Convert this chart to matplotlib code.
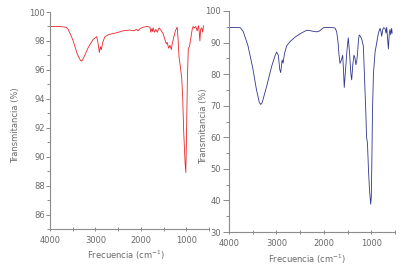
import matplotlib
matplotlib.use("Agg")
import matplotlib.pyplot as plt
from matplotlib.ticker import MultipleLocator

# Left spectrum (red)
red_wn = [4000, 3800, 3650, 3600, 3500, 3400, 3330, 3300, 3250, 3150, 3050, 2970, 2940, 2914,
          2890, 2870, 2840, 2790, 2700, 2550, 2390, 2250, 2150, 2100, 2060, 2020, 1950,
          1850, 1800, 1780, 1760, 1745, 1730, 1700, 1670, 1640, 1600, 1560, 1510, 1470, 1440, 1420,
          1390, 1360, 1330, 1310, 1280, 1240, 1200, 1180, 1160, 1130, 1100, 1080, 1060,
          1040, 1025, 1010, 995, 975, 955, 930, 900, 870, 850, 820, 790, 760, 730, 715,
          700, 685, 660, 640, 620]
red_t = [99.0, 99.0, 98.95, 98.8, 98.1, 97.1, 96.65, 96.6, 96.9, 97.6, 98.1, 98.3, 97.8, 97.2,
         97.6, 97.4, 97.9, 98.3, 98.45, 98.55, 98.7, 98.75, 98.7, 98.8, 98.7, 98.85, 98.95,
         99.0, 98.95, 98.6, 98.85, 98.65, 98.9, 98.6, 98.8, 98.6, 98.9, 98.75, 98.5, 98.1, 97.8, 97.9,
         97.5, 97.7, 97.4, 97.8, 98.2, 98.7, 98.95, 98.1, 96.9, 96.2, 95.4, 94.2, 92.0,
         90.5, 89.5, 88.9, 91.5, 95.5, 97.5, 97.6, 98.2, 98.8, 99.0, 98.9, 99.0, 98.7,
         99.05, 98.6, 98.0, 98.8, 98.9, 98.6, 99.05]

# Right spectrum (blue)
blue_wn = [4000, 3850, 3760, 3700, 3600, 3500, 3420, 3360, 3330, 3300, 3200, 3100, 3030, 2995,
           2960, 2930, 2910, 2880, 2860, 2830, 2784, 2700, 2600, 2500, 2400, 2360, 2300,
           2200, 2150, 2100, 2050, 2010, 1900, 1800, 1765, 1730, 1700, 1680, 1660, 1630,
           1603, 1585, 1570, 1540, 1510, 1485, 1460, 1430, 1413, 1390, 1365, 1343, 1325,
           1308, 1290, 1270, 1253, 1230, 1200, 1168, 1150, 1133, 1115, 1100, 1080, 1060,
           1040, 1025, 1012, 1000, 990, 975, 955, 920, 885, 850, 815, 795, 780, 760, 740,
           710, 690, 675, 660, 640, 620, 605, 590, 570, 560]
blue_t = [94.8, 94.8, 94.7, 93.5, 89.0, 82.0, 75.0, 71.0, 70.4, 71.0, 76.5, 82.5, 85.8, 87.0,
          86.0, 81.5, 80.5, 84.5, 83.5, 86.5, 89.0, 90.5, 91.8, 92.8, 93.6, 93.9, 93.8,
          93.5, 93.4, 93.6, 94.2, 94.7, 94.8, 94.7, 94.6, 93.5, 90.0, 86.0, 83.4, 84.5,
          86.0, 81.0, 75.8, 82.0, 88.0, 91.5, 87.0, 80.0, 78.2, 83.0, 86.0, 85.0, 83.0,
          84.0, 86.5, 91.0, 92.4, 92.0, 91.0, 89.0, 82.0, 75.0, 68.0, 60.2, 58.0, 50.0,
          44.0, 41.0, 38.8, 41.0, 50.0, 68.0, 80.0, 87.0, 90.0, 93.0, 94.5, 93.5, 92.0,
          94.0, 94.7, 94.5, 93.0, 94.8, 92.0, 88.0, 93.0, 94.2, 92.5, 94.5, 93.0]

red_color = "#e8262b"
blue_color = "#30358a"
axis_gray = "#8c8c8c"
text_gray = "#6a6a6a"

fig = plt.figure(figsize=(4.13, 2.70), dpi=100)
ax1 = fig.add_axes([50/413, 1-229/270, (209-50)/413, (229-12)/270])
ax2 = fig.add_axes([229/413, 1-232/270, (395-229)/413, (232-11)/270])

ax1.plot(red_wn, red_t, color=red_color, lw=0.6)
ax2.plot(blue_wn, blue_t, color=blue_color, lw=0.6)

ax1.set_xlim(4000, 500)
ax1.set_ylim(85, 100)
ax1.set_yticks([86, 88, 90, 92, 94, 96, 98, 100])
ax1.yaxis.set_minor_locator(MultipleLocator(1))

ax2.set_xlim(4000, 500)
ax2.set_ylim(30, 100)
ax2.yaxis.set_major_locator(MultipleLocator(10))
ax2.yaxis.set_minor_locator(MultipleLocator(5))

for ax in (ax1, ax2):
    ax.set_xticks([4000, 3000, 2000, 1000])
    ax.xaxis.set_minor_locator(MultipleLocator(500))
    for s in ("top", "right"):
        ax.spines[s].set_visible(False)
    for s in ("left", "bottom"):
        ax.spines[s].set_color(axis_gray)
        ax.spines[s].set_linewidth(0.8)
    ax.tick_params(which="both", color=axis_gray, width=0.7,
                   labelsize=6, labelcolor=text_gray)
    ax.tick_params(axis="x", which="both", direction="inout", length=3.5, pad=3.5)
    ax.tick_params(axis="y", which="both", direction="out")
    ax.set_xlabel("Frecuencia (cm$^{-1}$)", fontsize=6, color=text_gray)
    ax.set_ylabel("Transmitancia (%)", fontsize=6, color=text_gray)

ax1.tick_params(axis="y", which="major", length=3, pad=0.8)
ax1.tick_params(axis="y", which="minor", length=2)
ax2.tick_params(axis="y", which="major", length=4, pad=2)
ax2.tick_params(axis="y", which="minor", length=2.5)

ax1.yaxis.set_label_coords(-0.186, 0.48)
ax2.yaxis.set_label_coords(-0.1235, 0.48)
ax1.xaxis.set_label_coords(0.478, -0.092)
ax2.xaxis.set_label_coords(0.47, -0.095)

fig.savefig("out.png", dpi=100)
